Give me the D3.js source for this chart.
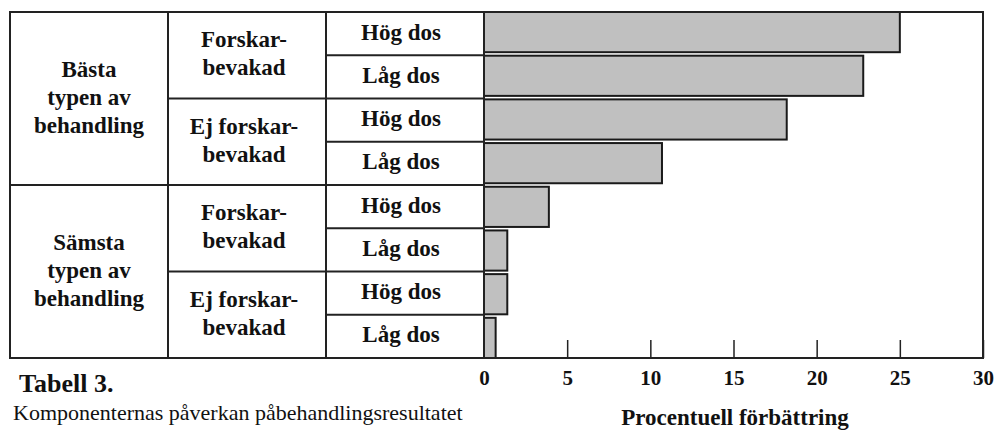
<!DOCTYPE html>
<html>
<head>
<meta charset="utf-8">
<script src="https://cdn.jsdelivr.net/npm/d3@7"></script>
<style>
  body { margin:0; background:#fff; }
</style>
</head>
<body>
<svg id="chart"></svg>
<script>
// data
var groupLabels = [["Bästa","typen av","behandling"],["Sämsta","typen av","behandling"]];
var supervision = [["Forskar-","bevakad"],["Ej forskar-","bevakad"]];
var doses = ["Hög dos","Låg dos"];
var values = [25, 22.8, 18.2, 10.7, 3.9, 1.4, 1.4, 0.7];
var xTicks = [0,5,10,15,20,25,30];
var caption = ["Tabell 3.","Komponenternas påverkan påbehandlingsresultatet"];
var xTitle = "Procentuell förbättring";

var serif = "'Liberation Serif', 'Times New Roman', serif";

function drawTable(id) {

var svg = d3.select("#" + id)
    .attr("width",997)
    .attr("height",432)
;
svg.selectAll("*").remove();

var rows = [];
groupLabels.forEach(function(g,gi){
    supervision.forEach(function(s,si){
        doses.forEach(function(d,di){
            rows.push({ g:gi, s:si, dose:d, value:values[rows.length] });
        })
    })
})
rows.forEach(function(r,i){ r.i = i; });

var top = 12, bottom = 358, right = 983;

var col = d3.scaleBand().domain(["grupp","bevakning","dos"]).range([10,484]);
var x = d3.scaleLinear().domain([0,30]).range([col.range()[1], right]);
var rowY = d3.scaleBand().domain(d3.range(rows.length)).range([top,bottom]);
var barY = d3.scaleBand().domain(d3.range(rows.length)).range([top,bottom]).paddingInner(0.08).paddingOuter(0);

var lineColor = "#222";
main = svg.append("g").attr("class","main");

function label(xx, yy, t, size, bold, anchor) {
    return main.append("text")
        .attr("x", xx)
        .attr("y", yy)
        .attr("text-anchor", anchor || "start")
        .attr("font-family", serif)
        .attr("font-size", size)
        .attr("font-weight", bold ? "bold" : "normal")
        .attr("fill", "#111")
        .text(t)
    ;
}

// ticks, pointing up into the plot
var axis = d3.axisBottom(x).tickValues(xTicks).tickSizeInner(-18).tickSizeOuter(0).tickPadding(12);
var ax = main.append("g")
    .attr("transform","translate(0,"+bottom+")")
    .call(axis)
;
ax.select(".domain").remove();
ax.attr("font-family", serif).attr("font-size", 21).attr("font-weight","bold");
ax.selectAll(".tick line").attr("stroke",lineColor).attr("stroke-width",1.5);
ax.selectAll(".tick text").attr("fill","#111");

// bars
main.selectAll("rect.bar")
    .data(rows)
    .enter().append("rect")
    .attr("class","bar")
    .attr("x", x(0))
    .attr("y", function(d){ return barY(d.i); })
    .attr("width", function(d){ return x(d.value) - x(0); })
    .attr("height", barY.bandwidth())
    .attr("fill","#c0c0c0")
    .attr("stroke","#1a1a1a")
    .attr("stroke-width",2)
;

// table lines
var lines = [];
for (var i = 1; i < rows.length; i++) {
    var start = i % 4 == 0 ? col("grupp") : (i % 2 == 0 ? col("bevakning") : col("dos"));
    lines.push([start, rowY(i), x(0), rowY(i)]);
}
["bevakning","dos"].forEach(function(c){ lines.push([col(c), top, col(c), bottom]); });
lines.push([x(0), top, x(0), bottom]);

main.selectAll("line.grid")
    .data(lines)
    .enter().append("line")
    .attr("class","grid")
    .attr("x1",function(d){return d[0];})
    .attr("y1",function(d){return d[1];})
    .attr("x2",function(d){return d[2];})
    .attr("y2",function(d){return d[3];})
    .attr("stroke",lineColor)
    .attr("stroke-width",2)
;

main.append("rect")
    .attr("x",col("grupp"))
    .attr("y",top)
    .attr("width",right - col("grupp"))
    .attr("height",bottom - top)
    .attr("fill","none")
    .attr("stroke",lineColor)
    .attr("stroke-width",2)
;

// cell texts
function cellText(cx, cy, lines) {
    var n = lines.length;
    lines.forEach(function(t,k){
        label(cx, cy + (k - (n-1)/2)*28 + 6, t, 23, true, "middle");
    })
}

var cx = function(c){ return col(c) + col.bandwidth()/2; };
var mid = function(a,b){ return (rowY(a) + rowY(b) + rowY.bandwidth())/2; };

groupLabels.forEach(function(g,gi){
    cellText(cx("grupp"), mid(gi*4, gi*4+3), g);
    supervision.forEach(function(s,si){
        var r0 = gi*4 + si*2;
        cellText(cx("bevakning") - 3, mid(r0, r0+1), s);
    })
})
rows.forEach(function(r){
    cellText(cx("dos") - 4, mid(r.i, r.i), [r.dose]);
})

// caption
label(19, 392, caption[0], 26, true);
label(13, 420, caption[1], 22, false);
label(735, 425, xTitle, 23, true, "middle");
}

drawTable("chart");
</script>
</body>
</html>
